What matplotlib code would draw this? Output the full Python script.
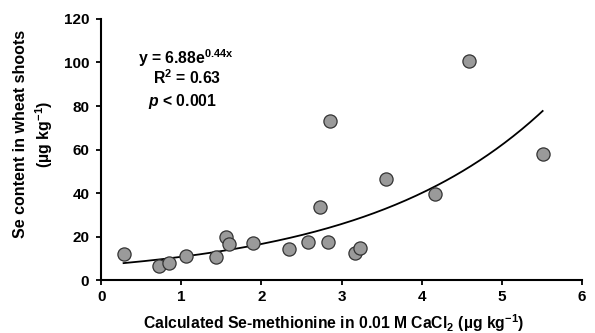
import numpy as np
import matplotlib
matplotlib.use("Agg")
import matplotlib.pyplot as plt

# fonts: bold Arial-like everywhere, math too
plt.rcParams['font.family'] = 'Liberation Sans'
plt.rcParams['font.weight'] = 'bold'
plt.rcParams['mathtext.fontset'] = 'custom'
plt.rcParams['mathtext.rm'] = 'Liberation Sans:bold'
plt.rcParams['mathtext.bf'] = 'Liberation Sans:bold'
plt.rcParams['mathtext.it'] = 'Liberation Sans:italic:bold'
plt.rcParams['mathtext.default'] = 'rm'

# data
se_met = [0.28, 0.72, 0.85, 1.06, 1.43, 1.56, 1.59, 1.90, 2.35, 2.58,
          2.73, 2.83, 2.86, 3.17, 3.23, 3.55, 4.17, 4.59, 5.51]
se_shoot = [12.0, 6.6, 7.7, 10.9, 10.4, 19.8, 16.4, 17.0, 14.3, 17.3,
            33.6, 17.3, 72.9, 12.3, 14.7, 46.3, 39.5, 100.5, 57.8]
fit_a, fit_b = 6.88, 0.44
x_ticks = [0, 1, 2, 3, 4, 5, 6]
y_ticks = [0, 20, 40, 60, 80, 100, 120]

fig = plt.figure(figsize=(5.95, 3.33), dpi=100)
ax = fig.add_axes([0.170, 0.159, 0.808, 0.784])

# fitted curve
xf = np.linspace(min(se_met), max(se_met), 200)
ax.plot(xf, fit_a * np.exp(fit_b * xf), color='black', lw=1.3, zorder=2)

# points
ax.scatter(se_met, se_shoot, s=90, facecolor='#9a9a9a', edgecolor='#333333',
           linewidth=0.9, zorder=3, clip_on=False)

ax.set_xlim(0, 6)
ax.set_ylim(0, 120)
ax.set_xticks(x_ticks)
ax.set_yticks(y_ticks)
for s in ['top', 'right']:
    ax.spines[s].set_visible(False)
for s in ['left', 'bottom']:
    ax.spines[s].set_linewidth(1.5)
ax.tick_params(direction='out', length=3.5, width=1.3, labelsize=11)
ax.tick_params(axis='y', pad=5)
ax.tick_params(axis='x', pad=4)
for lab in ax.get_xticklabels() + ax.get_yticklabels():
    lab.set_fontweight('bold')

# axis titles
fig.text(0.561, 0.030, 'Calculated Se-methionine in 0.01 M CaCl$_2$ (µg kg$^{-1}$)',
         fontsize=11.3, fontweight='bold', ha='center', va='center')
fig.text(21 / 595, 0.598, 'Se content in wheat shoots', rotation=90,
         fontsize=11.5, fontweight='bold', ha='center', va='center')
fig.text(44 / 595, 0.598, '(µg kg$^{-1}$)', rotation=90,
         fontsize=11.5, fontweight='bold', ha='center', va='center')

# equation box
ax.text(0.46, 102, 'y = 6.88e$^{0.44x}$', fontsize=11.3, fontweight='bold', ha='left', va='center')
ax.text(0.65, 93, 'R$^2$ = 0.63', fontsize=11.3, fontweight='bold', ha='left', va='center')
ax.text(0.59, 82, '$\\mathit{p}$ < 0.001', fontsize=11.3, fontweight='bold', ha='left', va='center')

fig.savefig('out.png', dpi=100)
